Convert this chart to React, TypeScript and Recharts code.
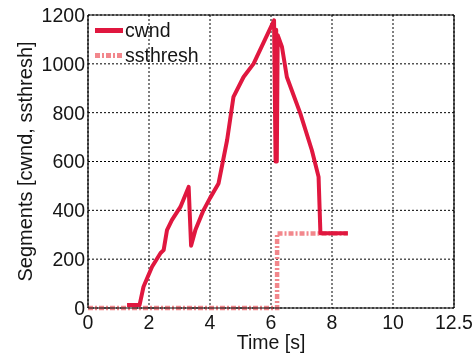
import React from "react";
import {
  LineChart,
  Line,
  XAxis,
  YAxis,
  CartesianGrid,
  ReferenceLine,
  Legend,
} from "recharts";

const cwndTime = [1.28, 1.69, 1.82, 2.1, 2.38, 2.48, 2.59, 2.75, 3.03, 3.3, 3.38, 3.52, 3.79, 4.0, 4.28, 4.56, 4.77, 5.1, 5.43, 6.1, 6.15, 6.17, 6.19, 6.22, 6.36, 6.52, 6.96, 7.34, 7.56, 7.62, 8.52];
const cwndValues = [12, 12, 87, 169, 225, 237, 319, 360, 414, 496, 255, 319, 401, 450, 510, 687, 865, 946, 1001, 1178, 600, 1140, 600, 1117, 1069, 946, 797, 646, 537, 306, 306];

const ssthreshTime = [0, 6.2, 6.2, 8.52];
const ssthreshValues = [0, 0, 305, 305];

const xTicks = [0, 2, 4, 6, 8, 10, 12];
const xTickLabels = ["0", "2", "4", "6", "8", "10", "12.5"];
const yTicks = [0, 200, 400, 600, 800, 1000, 1200];

const cwndData = cwndTime.map((t, i) => ({ t, v: cwndValues[i] }));
const ssthreshData = ssthreshTime.map((t, i) => ({ t, v: ssthreshValues[i] }));

const FONT = '"Liberation Sans", Arial, Helvetica, sans-serif';
const CWND_COLOR = "#e0173f";
const SS_COLOR = "#f2878c";
const TEXT = "#151515";

const renderLegend = () => (
  <div style={{ fontFamily: FONT, fontSize: 19.5, color: TEXT }}>
    <div style={{ display: "flex", alignItems: "center", height: 25 }}>
      <svg width={30} height={25}>
        <line x1={0} y1={12.5} x2={28} y2={12.5} stroke={CWND_COLOR} strokeWidth={5} />
      </svg>
      <span style={{ lineHeight: "25px" }}>cwnd</span>
    </div>
    <div style={{ display: "flex", alignItems: "center", height: 25 }}>
      <svg width={30} height={25}>
        <line x1={0} y1={12.5} x2={28} y2={12.5} stroke={SS_COLOR} strokeWidth={5} strokeDasharray="5 2 2 2" />
      </svg>
      <span style={{ lineHeight: "25px" }}>ssthresh</span>
    </div>
  </div>
);

export default function App() {
  return (
    <div style={{ width: 474, height: 357, position: "fixed", left: 0, top: 0 }}>
      <LineChart
        width={474}
        height={357}
        data={cwndData}
        margin={{ top: 15, right: 20, bottom: 4, left: 8 }}
      >
        <CartesianGrid
          stroke="#000"
          strokeWidth={1}
          strokeDasharray="2 2"
          horizontal={true}
          vertical={true}
        />
        <XAxis
          dataKey="t"
          type="number"
          domain={[0, 12]}
          ticks={xTicks}
          tickFormatter={(v: number) => xTickLabels[xTicks.indexOf(v)] ?? String(v)}
          allowDuplicatedCategory={false}
          height={45}
          tickLine={false}
          tickSize={6}
          tickMargin={1}
          axisLine={{ stroke: "#000", strokeWidth: 1.2 }}
          tick={{ fill: TEXT, fontSize: 19.5, fontFamily: FONT }}
          interval={0}
          label={{
            value: "Time [s]",
            position: "insideBottom",
            offset: 4,
            style: { fill: TEXT, fontSize: 19.5, fontFamily: FONT },
          }}
        />
        <YAxis
          type="number"
          domain={[0, 1200]}
          ticks={yTicks}
          width={80}
          tickLine={false}
          tickSize={1}
          tickMargin={2}
          interval={0}
          axisLine={{ stroke: "#000", strokeWidth: 1.2 }}
          tick={{ fill: TEXT, fontSize: 19.5, fontFamily: FONT }}
          label={{
            value: "Segments [cwnd, ssthresh]",
            angle: -90,
            position: "insideLeft",
            offset: 17,
            style: { fill: TEXT, fontSize: 20, fontFamily: FONT, textAnchor: "middle" },
          }}
        />
        <ReferenceLine y={1200} stroke="#000" strokeWidth={1.2} ifOverflow="visible" />
        <ReferenceLine x={12} stroke="#000" strokeWidth={1.2} ifOverflow="visible" />
        <Line
          data={ssthreshData}
          dataKey="v"
          type="linear"
          stroke={SS_COLOR}
          strokeWidth={4.5}
          strokeDasharray="5 2 2 2"
          dot={false}
          activeDot={false}
          isAnimationActive={false}
          name="ssthresh"
        />
        <Line
          data={cwndData}
          dataKey="v"
          type="linear"
          stroke={CWND_COLOR}
          strokeWidth={4}
          strokeLinejoin="round"
          dot={false}
          activeDot={false}
          isAnimationActive={false}
          name="cwnd"
        />
        <Legend
          content={renderLegend}
          layout="vertical"
          align="center"
          verticalAlign="middle"
          wrapperStyle={{ left: 95, top: 18, width: "auto", height: "auto" }}
        />
      </LineChart>
    </div>
  );
}
